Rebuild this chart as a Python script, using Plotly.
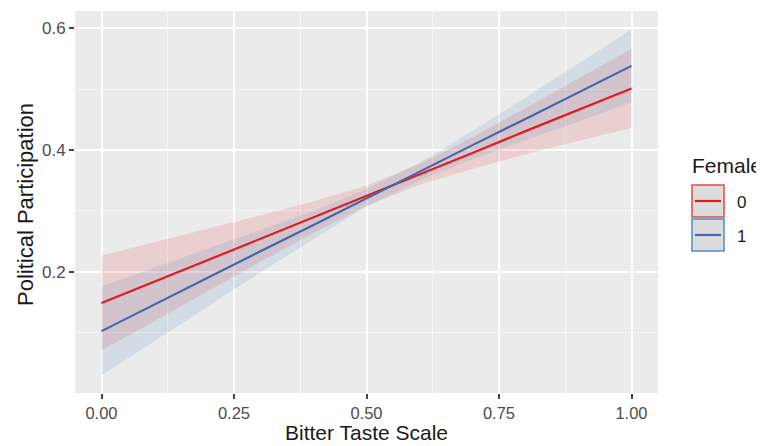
import plotly.graph_objects as go

# ---- data ----
x_vals = [0.0, 0.1, 0.2, 0.3, 0.4, 0.5, 0.6, 0.7, 0.8, 0.9, 1.0]

fit_0 = [0.149, 0.184, 0.219, 0.255, 0.290, 0.325, 0.360, 0.395, 0.431, 0.466, 0.501]
lo_0 = [0.071, 0.119, 0.168, 0.217, 0.264, 0.308, 0.343, 0.369, 0.393, 0.415, 0.436]
hi_0 = [0.227, 0.249, 0.270, 0.293, 0.316, 0.342, 0.377, 0.421, 0.469, 0.517, 0.566]

fit_1 = [0.103, 0.147, 0.190, 0.234, 0.277, 0.321, 0.364, 0.408, 0.451, 0.495, 0.538]
lo_1 = [0.030, 0.087, 0.143, 0.199, 0.254, 0.307, 0.350, 0.385, 0.416, 0.448, 0.478]
hi_1 = [0.176, 0.207, 0.237, 0.269, 0.300, 0.336, 0.379, 0.431, 0.486, 0.542, 0.598]

x_ticks = [0.0, 0.25, 0.5, 0.75, 1.0]
x_tick_labels = ["0.00", "0.25", "0.50", "0.75", "1.00"]
y_ticks = [0.2, 0.4, 0.6]
y_tick_labels = ["0.2", "0.4", "0.6"]

groups = ["0", "1"]
legend_title = "Female"
x_title = "Bitter Taste Scale"
y_title = "Political Participation"

line_colors = ["#E41A1C", "#4466AA"]
fill_colors = ["rgba(228,26,28,0.13)", "rgba(55,126,184,0.13)"]
key_border = ["#E8474A", "#4C8FC8"]

# page has an 8px body margin; figure is sized/positioned to compensate
OFF = 8
W, H = 764 - OFF, 446 - OFF
L, T = 75 - OFF, 11 - OFF
PW, PH = 583, 382
R, B = W - L - PW, H - T - PH

fig = go.Figure()
series = [(fit_0, lo_0, hi_0), (fit_1, lo_1, hi_1)]
for i, (fit, lo, hi) in enumerate(series):
    fig.add_trace(go.Scatter(x=x_vals, y=lo, mode="lines", line=dict(width=0),
                             hoverinfo="skip", showlegend=False))
    fig.add_trace(go.Scatter(x=x_vals, y=hi, mode="lines", line=dict(width=0),
                             fill="tonexty", fillcolor=fill_colors[i],
                             hoverinfo="skip", showlegend=False))
for i, (fit, lo, hi) in enumerate(series):
    fig.add_trace(go.Scatter(x=x_vals, y=fit, mode="lines",
                             line=dict(color=line_colors[i], width=2.2),
                             name=groups[i], showlegend=False))

font_family = "Liberation Sans, Arial, sans-serif"

fig.update_layout(
    width=W, height=H,
    margin=dict(l=L, r=R, t=T, b=B, autoexpand=False),
    paper_bgcolor="white",
    plot_bgcolor="#EBEBEB",
    font=dict(family=font_family, color="#222222"),
    showlegend=False,
)
fig.update_xaxes(
    range=[-0.05, 1.05], automargin=False,
    tickvals=x_ticks, ticktext=x_tick_labels,
    showgrid=True, gridcolor="white", gridwidth=1.6,
    minor=dict(dtick=0.125, tick0=0.125, showgrid=True, gridcolor="#F7F7F7", gridwidth=0.8, ticks=""),
    ticks="outside", ticklen=5, tickcolor="#444444", tickwidth=1.5,
    tickfont=dict(size=16.5, color="#4D4D4D"),
    zeroline=False, showline=False,
)
fig.update_yaxes(
    range=[0.0015, 0.628], automargin=False,
    tickvals=y_ticks, ticktext=y_tick_labels,
    showgrid=True, gridcolor="white", gridwidth=1.6,
    minor=dict(dtick=0.1, tick0=0.1, showgrid=True, gridcolor="#F7F7F7", gridwidth=0.8, ticks=""),
    ticks="outside", ticklen=5, tickcolor="#444444", tickwidth=1.5,
    tickfont=dict(size=17, color="#4D4D4D"),
    zeroline=False, showline=False,
)

# ---- page-pixel -> paper helpers for titles and the ggplot-style legend ----
def px(xp):
    return (xp - OFF - L) / PW
def py(yp):
    return (T + PH - (yp - OFF)) / PH

fig.add_annotation(text=x_title, xref="paper", yref="paper", x=px(366), y=py(446),
                   xanchor="center", yanchor="bottom", showarrow=False,
                   font=dict(size=21, color="#1A1A1A"))
fig.add_annotation(text=y_title, xref="paper", yref="paper", x=px(25), y=py(205),
                   xanchor="center", yanchor="middle", showarrow=False, textangle=-90,
                   font=dict(size=22, color="#1A1A1A"))

fig.add_annotation(text=legend_title, xref="paper", yref="paper", x=px(690), y=py(165),
                   xanchor="left", yanchor="middle", showarrow=False,
                   font=dict(size=21, color="#1A1A1A"))
key_tops = [185, 219]
for i, g in enumerate(groups):
    top = key_tops[i]
    fig.add_shape(type="rect", xref="paper", yref="paper",
                  x0=px(692), x1=px(724), y0=py(top + 32), y1=py(top),
                  fillcolor="#DCDCDC", line=dict(color=key_border[i], width=1.5))
    fig.add_shape(type="line", xref="paper", yref="paper",
                  x0=px(695), x1=px(721), y0=py(top + 16), y1=py(top + 16),
                  line=dict(color=line_colors[i], width=2.2))
    fig.add_annotation(text=g, xref="paper", yref="paper", x=px(735), y=py(top + 17),
                       xanchor="left", yanchor="middle", showarrow=False,
                       font=dict(size=17, color="#1A1A1A"))

fig.write_html("out.html")
